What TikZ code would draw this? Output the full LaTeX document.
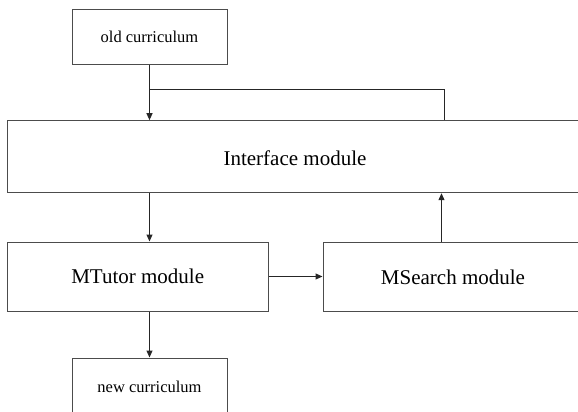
\documentclass[tikz,border=0pt]{standalone}
\usepackage{fontspec}
\setmainfont{Liberation Serif}
\usetikzlibrary{arrows.meta}
\begin{document}
\begin{tikzpicture}[x=1pt,y=-1pt,
  box/.style={draw=black!70,line width=1pt,inner sep=0pt},
  small/.style={font=\fontsize{16.5}{19}\selectfont},
  big/.style={font=\fontsize{21}{24}\selectfont},
  conn/.style={draw=black!85,line width=1pt},
  arr/.style={conn,-{Triangle[length=7pt,width=6pt]}}]
\useasboundingbox (0,0) rectangle (578,412);
\clip (0,0) rectangle (578,412);
\node[box,small,minimum width=155pt,minimum height=55pt] (old) at (149.5,37) {old curriculum};
\node[box,minimum width=572.6pt,minimum height=72pt] (iface) at (293.7,156.7) {};
\node[big] (ifacetext) at (295,158) {Interface module};
\node[box,big,minimum width=260.6pt,minimum height=69pt] (mtutor) at (137.7,276.5) {MTutor module};
\node[box,minimum width=257pt,minimum height=69pt] (msearch) at (451.5,276.5) {};
\node[big] (mstext) at (453,277) {MSearch module};
\node[box,minimum width=155pt,minimum height=56pt] (new) at (149.5,386) {};
\node[small] (newtext) at (149.5,386.5) {new curriculum};
\coordinate (fb) at (444.5,89.5);
\coordinate (up) at (441.5,200);
\draw[arr] (old.south) -- (old.south |- iface.north);
\draw[conn] (iface.north -| fb) -- (fb) -- (fb -| old.south);
\draw[arr] (iface.south -| old.south) -- (mtutor.north -| old.south);
\draw[arr] (mtutor.east) -- (msearch.west);
\draw[arr] (msearch.north -| up) -- (iface.south -| up);
\draw[arr] (mtutor.south -| old.south) -- (new.north);
\end{tikzpicture}
\end{document}
